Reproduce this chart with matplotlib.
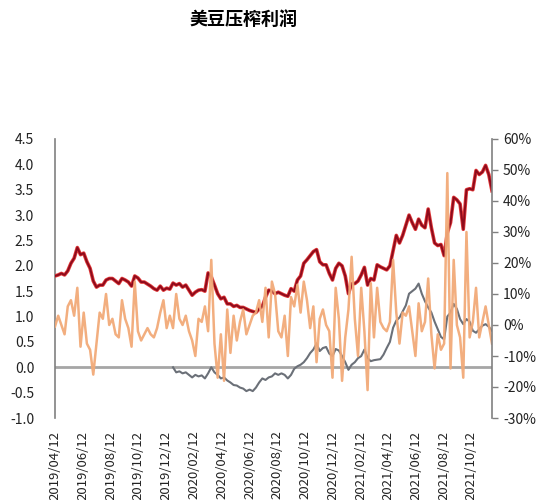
import numpy as np
import pandas as pd
import matplotlib
matplotlib.use('Agg')
import matplotlib.pyplot as plt
import matplotlib.patheffects as pe

plt.rcParams['font.family'] = ['Noto Sans CJK SC', 'DejaVu Sans']
plt.rcParams['axes.unicode_minus'] = False

title = '美豆压榨利润'

# 周度数据 2019/04/12 起
start_date = '2019-04-12'
n_weeks = 138

# 压榨利润 (左轴)
crush_margin = [1.80, 1.82, 1.85, 1.82, 1.90, 2.05, 2.15, 2.36, 2.22, 2.25,
                2.08, 1.95, 1.70, 1.58, 1.62, 1.62, 1.72, 1.75, 1.75, 1.70,
                1.65, 1.75, 1.72, 1.68, 1.60, 1.80, 1.76, 1.68, 1.68, 1.64,
                1.60, 1.55, 1.52, 1.60, 1.52, 1.56, 1.54, 1.66, 1.62, 1.65,
                1.58, 1.62, 1.52, 1.42, 1.48, 1.52, 1.53, 1.50, 1.86, 1.78,
                1.62, 1.45, 1.35, 1.38, 1.25, 1.25, 1.20, 1.22, 1.18, 1.18,
                1.15, 1.12, 1.10, 1.08, 1.15, 1.20, 1.38, 1.52, 1.50, 1.45,
                1.48, 1.45, 1.42, 1.40, 1.55, 1.50, 1.72, 1.80, 2.05, 2.12,
                2.20, 2.28, 2.32, 2.08, 2.02, 2.02, 1.85, 1.72, 1.95, 2.05,
                2.00, 1.80, 1.45, 1.65, 1.65, 1.70, 1.82, 1.97, 1.62, 1.75,
                1.72, 2.02, 1.98, 1.95, 1.92, 2.00, 2.30, 2.60, 2.45, 2.60,
                2.80, 3.00, 2.85, 2.72, 2.92, 2.80, 2.75, 3.12, 2.75, 2.45,
                2.40, 2.42, 2.20, 2.65, 2.85, 3.35, 3.30, 3.22, 2.72, 3.50,
                3.52, 3.50, 3.88, 3.80, 3.85, 3.98, 3.80, 3.48]

# 灰线 (左轴), 从第37周开始
grey_start = 37
grey_line = [0.00, -0.10, -0.08, -0.12, -0.10, -0.15, -0.20, -0.15, -0.18, -0.16,
             -0.22, -0.12, 0.00, -0.10, -0.15, -0.22, -0.20, -0.26, -0.30, -0.35,
             -0.36, -0.40, -0.42, -0.47, -0.44, -0.47, -0.40, -0.30, -0.22, -0.25,
             -0.20, -0.18, -0.12, -0.15, -0.12, -0.15, -0.22, -0.15, -0.03, 0.02,
             0.05, 0.10, 0.18, 0.28, 0.35, 0.47, 0.32, 0.38, 0.40, 0.27,
             0.22, 0.36, 0.33, 0.22, 0.10, -0.05, 0.05, 0.10, 0.18, 0.22,
             0.35, 0.18, 0.12, 0.14, 0.15, 0.16, 0.25, 0.38, 0.50, 0.78,
             0.92, 0.98, 1.10, 1.22, 1.45, 1.50, 1.55, 1.65, 1.45, 1.30,
             1.18, 1.08, 0.90, 0.75, 0.60, 0.55, 1.00, 1.08, 1.25, 1.15,
             0.95, 0.85, 0.95, 0.90, 0.72, 0.68, 0.75, 0.82, 0.85, 0.80,
             0.72]

# 橙线 (右轴, %)
orange_pct = [-0.5, 3, 0, -3, 6, 8, 3, 12, -7, 4,
              -6, -8, -16, -6, 4, 2, 10, 0, 2, -3,
              -4, 8, 2, -1, -7, 14, -2, -5, -3, -1,
              -3, -4, -1, 4, 8, -1, 3, -1, 10, 2,
              0, 3, -2, -5, -10, 2, 1, 6, -2, 21,
              -6, -17, -3, -18, 5, -9, 3, -5, 1, 5,
              -3, 0, 3, 4, 8, 1, 12, -4, 14, 10,
              -2, -4, 3, -10, 9, 6, 13, 4, 14, 8,
              -1, 6, -12, 2, 5, 0, -2, -17, 12, 2,
              -18, -4, 5, 22, 2, -10, 12, -2, -21, 13.5,
              -4, 12, 1, -1, -2, 1, 21, 4, -6, 4,
              3, 6, -2, -10, 7, -2, 1, 15, -3, -14,
              -3, -8, -6, 49, -14, 21, 0, -4, -17, 30,
              -4, 1, 12, -4, 1, 6, 0, -6]

x_tick_labels = ['2019/04/12', '2019/06/12', '2019/08/12', '2019/10/12',
                 '2019/12/12', '2020/02/12', '2020/04/12', '2020/06/12',
                 '2020/08/12', '2020/10/12', '2020/12/12', '2021/02/12',
                 '2021/04/12', '2021/06/12', '2021/08/12', '2021/10/12']

dates = pd.date_range(start_date, periods=n_weeks, freq='7D')
tick_dates = pd.to_datetime(x_tick_labels, format='%Y/%m/%d')

fig = plt.figure(figsize=(5.5, 5.0), dpi=100)
ax = fig.add_axes([0.1, 0.164, 0.7945, 0.558])
ax2 = ax.twinx()

# 零轴
ax.axhline(0, color='#A6A6A6', lw=2.0, zorder=1)

ax.plot(dates, crush_margin, color='#8E0B1C', lw=1.4, zorder=3,
        path_effects=[pe.Stroke(linewidth=2.6, foreground='#E23A3A'), pe.Normal()])
ax.plot(dates[grey_start:], grey_line, color='#6B7078', lw=1.5, zorder=2)
ax2.plot(dates, orange_pct, color='#F2AA78', lw=1.8, alpha=0.95)

ax.set_xlim(dates[0], dates[-1])
ax.set_ylim(-1.0, 4.5)
ax.set_yticks(np.arange(-1.0, 4.51, 0.5))
ax.set_yticklabels(['%.1f' % v for v in np.arange(-1.0, 4.51, 0.5)])
ax2.set_ylim(-30, 60)
ax2.set_yticks(np.arange(-30, 61, 10))
ax2.set_yticklabels(['%d%%' % v for v in np.arange(-30, 61, 10)])

ax.set_xticks(tick_dates)
ax.set_xticklabels(x_tick_labels, rotation=90)

for a in (ax, ax2):
    for s in ('top', 'bottom'):
        a.spines[s].set_visible(False)
ax.spines['right'].set_visible(False)
ax2.spines['left'].set_visible(False)
ax.spines['left'].set_color('#808080')
ax2.spines['right'].set_color('#808080')
ax.spines['left'].set_linewidth(1.2)
ax2.spines['right'].set_linewidth(1.2)

ax.tick_params(axis='y', length=0, pad=15, labelsize=10, colors='#222222')
ax.tick_params(axis='x', length=0, pad=9, labelsize=9.5, colors='#222222')
ax2.tick_params(axis='y', length=4, width=1, color='#808080', pad=4,
                labelsize=10, labelcolor='#222222')

fig.text(0.442, 0.962, title, ha='center', va='center', fontsize=13,
         fontweight='bold')

fig.savefig('out.png', dpi=100, facecolor='white')
